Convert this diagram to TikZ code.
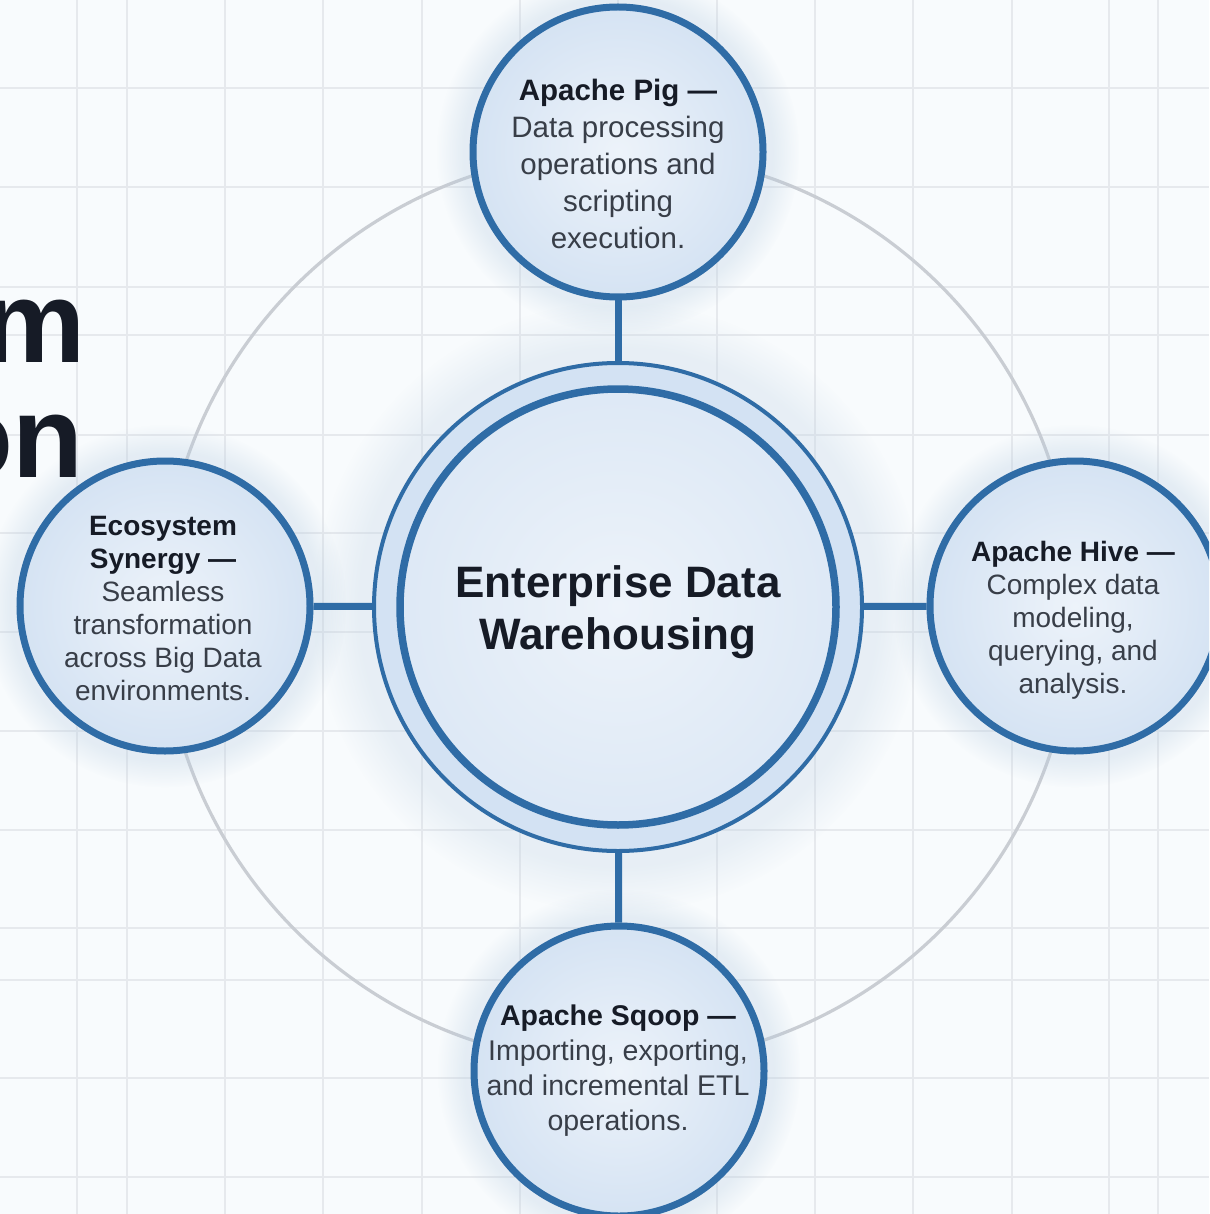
\documentclass[tikz,border=0pt]{standalone}
\usepackage{fontspec}
\setmainfont{Liberation Sans}
\usetikzlibrary{shadows,fadings}
\definecolor{bg}{HTML}{F8FBFD}
\definecolor{gridc}{HTML}{E6E9ED}
\definecolor{ringc}{HTML}{C9CDD3}
\definecolor{blu}{HTML}{2F6CA6}
\definecolor{fillA}{HTML}{EDF3FA}
\definecolor{fillB}{HTML}{D5E3F3}
\definecolor{band}{HTML}{D3E2F3}
\definecolor{ink}{HTML}{161B26}
\definecolor{bodyc}{HTML}{383E48}
\begin{document}
\begin{tikzpicture}[x=1pt,y=-1pt,
  gridline/.style={draw=gridc, line width=2pt},
  ringline/.style={draw=ringc, line width=3.2pt},
  sat/.style={circle, minimum size=290pt, inner sep=0pt, draw=blu, line width=7pt,
    inner color=fillA, outer color=fillB,
    circular glow={fill=blu!35, opacity=0.3}},
  conn/.style={draw=blu, line width=7pt},
  txt/.style={align=center, text=bodyc, inner sep=0pt},
  titletxt/.style={font=\fontsize{116}{116}\selectfont\bfseries, text=ink, inner sep=0pt}
]
\fill[bg] (0,0) rectangle (1209,1214);
\useasboundingbox (0,0) rectangle (1209,1214);
\clip (0,0) rectangle (1209,1214);
% grid
\foreach \x in {77,127,225,323,422,520,618,717,815,913,1012,1109,1158}
  \draw[gridline] (\x,0) -- (\x,1214);
\foreach \y in {88,187,287,335,435,533,632,731,830,928,980,1078,1177}
  \draw[gridline] (0,\y) -- (1209,\y);
% orbit ring
\draw[ringline] (618,608) circle[radius=456pt];
% centre
\node[circle, minimum size=488pt, inner sep=0pt, draw=blu, line width=4pt, fill=band,
  circular glow={fill=blu!30, opacity=0.3}] (core) at (618,607) {};
\node[circle, minimum size=436pt, inner sep=0pt, draw=blu, line width=7.5pt,
  inner color=fillA, outer color=fillB!80!white] (coreIn) at (618,607) {};
\node[txt, text=ink, font=\fontsize{44}{52}\selectfont\bfseries] (coreT) at (618,612)
  {Enterprise Data\\Warehousing};
% satellites
\node[sat] (pig) at (618,152) {};
\node[sat] (hive) at (1075,606) {};
\node[sat] (sqoop) at (619,1071) {};
\node[sat] (eco) at (165,606) {};
% connectors
\draw[conn] (pig) -- (core);
\draw[conn] (hive) -- (core);
\draw[conn] (sqoop) -- (core);
\draw[conn] (eco) -- (core);
% title fragments
\node[titletxt, anchor=base east] (t1) at (86,362) {m};
\node[titletxt, anchor=base east] (t2) at (84,477) {on};
% satellite texts
\node[txt, font=\fontsize{29.5}{37}\selectfont] (pigT) at (618,164)
  {\textbf{\color{ink}Apache Pig —}\\Data processing\\operations and\\scripting\\execution.};
\node[txt, font=\fontsize{28}{33}\selectfont] (hiveT) at (1073,620)
  {\textbf{\color{ink}Apache Hive —}\\Complex data\\modeling,\\querying, and\\analysis.};
\node[txt, font=\fontsize{28.5}{35}\selectfont] (sqoopT) at (618,1071)
  {\textbf{\color{ink}Apache Sqoop —}\\Importing, exporting,\\and incremental ETL\\operations.};
\node[txt, font=\fontsize{28}{33}\selectfont] (ecoT) at (163,608)
  {\textbf{\color{ink}Ecosystem}\\\textbf{\color{ink}Synergy —}\\Seamless\\transformation\\across Big Data\\environments.};
\end{tikzpicture}
\end{document}
